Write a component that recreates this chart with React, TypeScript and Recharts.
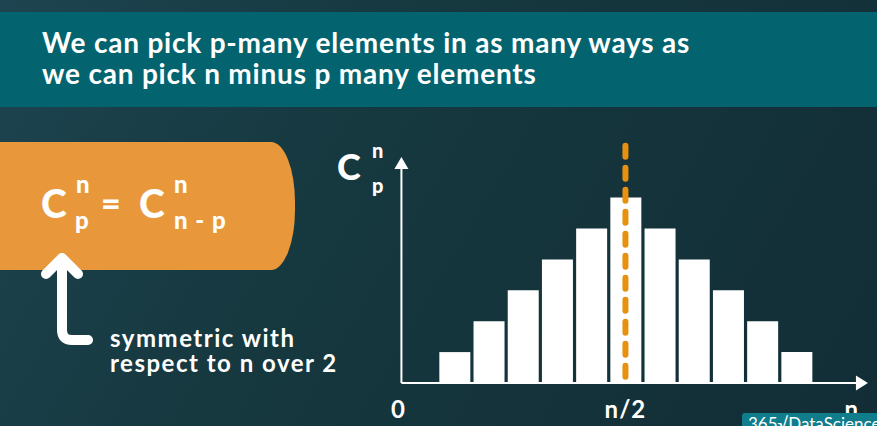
import { BarChart, Bar, XAxis, YAxis, ReferenceLine, ReferenceDot } from "recharts";

// p positions along the axis and the matching C(n, p) heights
const positions = [1, 2, 3, 4, 5, 6, 7, 8, 9, 10, 11];
const counts = [1, 2, 3, 4, 5, 6, 5, 4, 3, 2, 1];
const tickValues = [-0.64, 6, 12.62];
const tickLabels = ["0", "n/2", "n"];
const titleLines = [
  "We can pick p-many elements in as many ways as",
  "we can pick n minus p many elements",
];
const noteLines = ["symmetric with", "respect to n over 2"];

const data = positions.map((p, i) => ({ p, c: counts[i] }));

const FONT = "Lato, 'Open Sans', sans-serif";
const ORANGE = "#e8983a";
const DASH = "#e8900f";

function Tick({ x, y, payload }: any) {
  let idx = 0;
  tickValues.forEach((v, i) => {
    if (Math.abs(v - payload.value) < Math.abs(tickValues[idx] - payload.value)) idx = i;
  });
  return (
    <text
      x={x}
      y={y + 35}
      textAnchor="middle"
      fill="#fff"
      fontSize={24}
      fontWeight={700}
      letterSpacing={1}
      fontFamily={FONT}
    >
      {tickLabels[idx]}
    </text>
  );
}

const ArrowRight = ({ cx, cy }: any) => (
  <polygon points={`${cx},${cy} ${cx - 12},${cy - 7.5} ${cx - 12},${cy + 7.5}`} fill="#fff" />
);
const ArrowUp = ({ cx, cy }: any) => (
  <polygon points={`${cx},${cy} ${cx - 7},${cy + 12} ${cx + 7},${cy + 12}`} fill="#fff" />
);

export default function App() {
  return (
    <div
      style={{
        position: "absolute",
        left: 0,
        top: 0,
        width: 877,
        height: 426,
        overflow: "hidden",
        background: "linear-gradient(120deg, #1d4450 0%, #16383f 40%, #122d36 100%)",
        fontFamily: FONT,
      }}
    >
      {/* title band */}
      <div
        style={{
          position: "absolute",
          left: 0,
          top: 12,
          width: 877,
          height: 95,
          background: "#03646f",
        }}
      />
      <div
        style={{
          position: "absolute",
          left: 42,
          top: 27,
          color: "#fff",
          fontWeight: 700,
          fontSize: 28,
          letterSpacing: 0.8,
          lineHeight: "31px",
          whiteSpace: "nowrap",
        }}
      >
        {titleLines.map((t) => (
          <div key={t}>{t}</div>
        ))}
      </div>

      {/* orange formula box */}
      <div
        style={{
          position: "absolute",
          left: 0,
          top: 142,
          width: 295,
          height: 128,
          background: ORANGE,
          borderRadius: "0 24px 24px 0 / 0 60px 60px 0",
        }}
      />

      <svg width={877} height={426} style={{ position: "absolute", left: 0, top: 0 }}>
        <g fill="#fff" fontWeight={900} fontFamily={FONT}>
          <text x={41} y={218} fontSize={39}>C</text>
          <text x={76} y={193} fontSize={24}>n</text>
          <text x={75} y={229} fontSize={24}>p</text>
          <text x={101} y={216} fontSize={34}>=</text>
          <text x={139} y={218} fontSize={39}>C</text>
          <text x={174} y={193} fontSize={24}>n</text>
          <text x={174} y={229} fontSize={24} letterSpacing={1}>n - p</text>

          <text x={337} y={180} fontSize={36}>C</text>
          <text x={372} y={158} fontSize={20}>n</text>
          <text x={372} y={193} fontSize={20}>p</text>
        </g>
        <g fill="#fff" fontWeight={700} fontFamily={FONT}>
          {noteLines.map((t, i) => (
            <text key={t} x={110} y={347 + i * 25} fontSize={24} letterSpacing={1.5}>
              {t}
            </text>
          ))}
        </g>
        <path
          d="M46 274 L62 258 L78 274 M62 258 L62 330 Q62 340 72 340 L88 340"
          fill="none"
          stroke="#fff"
          strokeWidth={10}
          strokeLinecap="round"
          strokeLinejoin="round"
        />
      </svg>

      <BarChart
        width={877}
        height={426}
        data={data}
        margin={{ top: 140.4, right: 5.3, bottom: 13, left: 398 }}
        style={{ position: "absolute", left: 0, top: 0 }}
      >
        <XAxis
          type="number"
          dataKey="p"
          domain={[-0.65, 13.2]}
          ticks={tickValues}
          tick={<Tick />}
          axisLine={false}
          tickLine={false}
          tickSize={0}
          tickMargin={0}
          height={30}
          interval={0}
          allowDataOverflow
        />
        <YAxis hide domain={[0, 7.85]} allowDataOverflow />
        <Bar dataKey="c" fill="#fff" barSize={31} isAnimationActive={false} />
        <ReferenceLine
          segment={[{ x: -0.55, y: 0 }, { x: 13.0, y: 0 }]}
          stroke="#fff"
          strokeWidth={2}
          ifOverflow="visible"
        />
        <ReferenceLine
          segment={[{ x: -0.55, y: 0 }, { x: -0.55, y: 7.0 }]}
          stroke="#fff"
          strokeWidth={2}
          ifOverflow="visible"
        />
        <ReferenceDot x={13.09} y={0} r={0} shape={ArrowRight} ifOverflow="visible" />
        <ReferenceDot x={-0.55} y={7.31} r={0} shape={ArrowUp} ifOverflow="visible" />
        <ReferenceLine
          segment={[{ x: 6, y: 7.68 }, { x: 6, y: 0 }]}
          stroke={DASH}
          strokeWidth={6}
          strokeDasharray="11 11"
          strokeLinecap="round"
          ifOverflow="visible"
        />
      </BarChart>

      {/* logo tag */}
      <div
        style={{
          position: "absolute",
          left: 742,
          top: 413,
          width: 140,
          height: 20,
          background: "#0f7d8c",
          borderRadius: "3px 0 0 0",
          color: "#fff",
          fontSize: 17,
          lineHeight: "22px",
          paddingLeft: 6,
          whiteSpace: "nowrap",
        }}
      >
        365√DataScience
      </div>
    </div>
  );
}
